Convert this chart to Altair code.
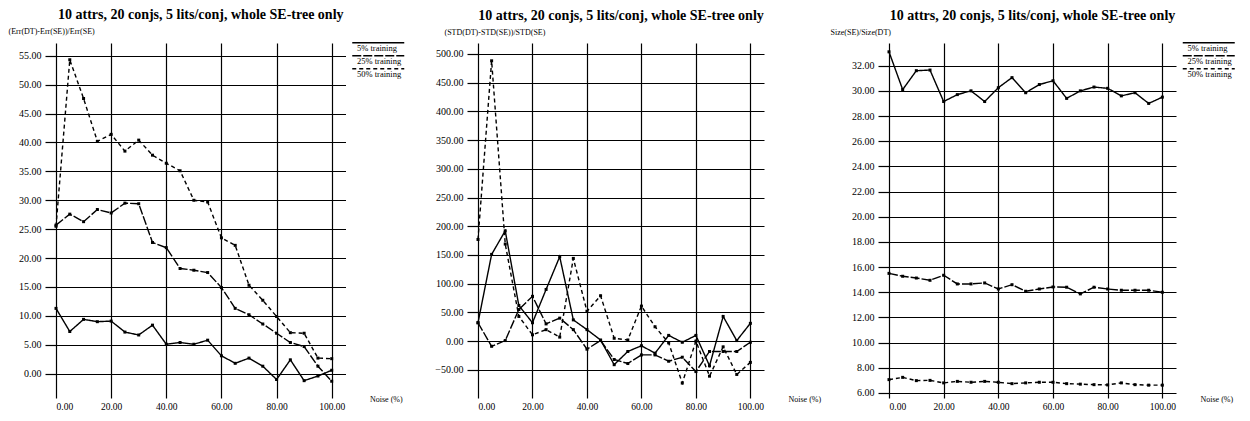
import altair as alt
import pandas as pd

FONT = "Liberation Serif"
TITLE = "10 attrs, 20 conjs, 5 lits/conj, whole SE-tree only"
series_names = ["5% training", "25% training", "50% training"]
noise = [0, 5, 10, 15, 20, 25, 30, 35, 40, 45, 50, 55, 60, 65, 70, 75, 80, 85, 90, 95, 100]
x_ticks = [0, 20, 40, 60, 80, 100]

# Panel 1: (Err(DT)-Err(SE))/Err(SE)
err_5 = [11.3, 7.3, 9.4, 9.0, 9.1, 7.2, 6.7, 8.4, 5.1, 5.4, 5.1, 5.8, 3.1, 1.8, 2.7, 1.3, -1.0, 2.4, -1.2, -0.4, 0.6]
err_25 = [25.7, 27.6, 26.3, 28.4, 27.8, 29.5, 29.4, 22.7, 21.8, 18.2, 17.9, 17.5, 14.9, 11.3, 10.2, 8.6, 7.0, 5.4, 4.7, 1.3, -1.3]
err_50 = [25.5, 54.3, 47.6, 40.2, 41.4, 38.5, 40.4, 37.8, 36.4, 35.1, 30.0, 29.7, 23.5, 22.2, 15.3, 12.7, 9.9, 7.1, 7.0, 2.7, 2.6]
err_ticks = [0, 5, 10, 15, 20, 25, 30, 35, 40, 45, 50, 55]

# Panel 2: (STD(DT)-STD(SE))/STD(SE)
std_5 = [32, 151, 192, 62, 32, 90, 147, 37, 20, 2, -41, -18, -8, -21, 10, -2, 10, -43, 43, 1, 31]
std_25 = [32, -9, 1, 55, 78, 30, 40, 20, -14, 1, -32, -39, -24, -24, -35, -28, -53, -18, -18, -18, -2]
std_50 = [177, 488, 169, 43, 11, 20, 7, 144, 52, 79, 5, 2, 61, 25, -3, -73, 0, -61, -10, -58, -37]
std_ticks = [-50, 0, 50, 100, 150, 200, 250, 300, 350, 400, 450, 500]

# Panel 3: Size(SE)/Size(DT)
size_5 = [33.1, 30.1, 31.6, 31.65, 29.15, 29.7, 30.0, 29.15, 30.25, 31.05, 29.85, 30.5, 30.8, 29.4, 30.0, 30.3, 30.2, 29.6, 29.85, 29.0, 29.5]
size_25 = [15.5, 15.27, 15.13, 14.95, 15.35, 14.66, 14.66, 14.74, 14.26, 14.6, 14.08, 14.26, 14.42, 14.4, 13.87, 14.4, 14.26, 14.16, 14.16, 14.16, 14.0]
size_50 = [7.06, 7.24, 6.98, 7.0, 6.8, 6.92, 6.85, 6.92, 6.85, 6.74, 6.8, 6.85, 6.85, 6.74, 6.7, 6.66, 6.64, 6.8, 6.66, 6.62, 6.62]
size_ticks = [6, 8, 10, 12, 14, 16, 18, 20, 22, 24, 26, 28, 30, 32]


def panel(vals, ylabel, ydomain, yticks, w, h, ytx, yty, toff):
    rows = []
    for name, v in zip(series_names, vals):
        for n, y in zip(noise, v):
            rows.append({"noise": n, "value": y, "series": name})
    df = pd.DataFrame(rows)
    base = alt.Chart(df).encode(
        x=alt.X("noise:Q",
                scale=alt.Scale(domain=[0, 105], nice=False, zero=False),
                axis=alt.Axis(values=x_ticks, format=".2f", title="Noise (%)",
                              grid=True, ticks=False, domain=False, labelPadding=3,
                              labelFontSize=9.5,
                              titleX=w + 24, titleY=1, titleAlign="left",
                              titleBaseline="middle", titleFontSize=8,
                              titleFontWeight="normal")),
        y=alt.Y("value:Q",
                scale=alt.Scale(domain=ydomain, nice=False, zero=False),
                axis=alt.Axis(values=yticks, format=".2f", title=ylabel,
                              titleAngle=0, titleAlign="left", titleBaseline="middle",
                              titleX=ytx, titleY=yty, titleFontSize=8,
                              titleFontWeight="normal", tickSize=11, labelPadding=4,
                              domain=False, grid=True)),
    )
    line = base.mark_line(color="black", strokeWidth=1.4).encode(
        strokeDash=alt.StrokeDash(
            "series:N",
            scale=alt.Scale(domain=series_names, range=[[1, 0], [9, 2], [4, 3]]),
            legend=alt.Legend(orient="none", legendX=w + 3, legendY=1, title=None,
                              symbolType="M-1,-11L103,-11", symbolSize=1,
                              symbolStrokeWidth=1.3, symbolStrokeColor="black",
                              symbolFillColor="transparent", labelFont=FONT,
                              labelFontSize=8.5, labelOffset=0, padding=0,
                              rowPadding=0, labelColor="black"),
        ),
    )
    pts = base.mark_square(size=9, color="black", opacity=1).encode(detail="series:N")
    return alt.layer(line, pts).properties(
        width=w, height=h,
        title=alt.TitleParams(TITLE, offset=toff, anchor="middle"),
    )


p1 = panel([err_5, err_25, err_50], "(Err(DT)-Err(SE))/Err(SE)", [-4.2, 57.2], err_ticks,
           289.5, 355, -48, -12, 5)
p2 = panel([std_5, std_25, std_50], "(STD(DT)-STD(SE))/STD(SE)", [-99, 519], std_ticks,
           286, 355, -34, -11, 5)
p3 = panel([size_5, size_25, size_50], "Size(SE)/Size(DT)", [5.6, 33.8], size_ticks,
           287, 355, -59, -11, 5)

chart = alt.hconcat(
    alt.hconcat(p1, p2, spacing=31),
    p3, spacing=9,
).properties(padding=0).resolve_scale(strokeDash="independent").resolve_legend(
    strokeDash="independent"
).configure(
    font=FONT,
).configure_view(stroke=None).configure_axis(
    labelFont=FONT, titleFont=FONT, labelFontSize=10, labelColor="black",
    titleColor="black", gridColor="black", gridWidth=1.2, gridOpacity=1,
    tickColor="black", tickWidth=1.2,
).configure_title(
    font=FONT, fontSize=14, fontWeight="bold", color="black",
).configure_legend(labelFont=FONT)

chart.save("out.html", embed_options={"renderer": "svg", "actions": False})
